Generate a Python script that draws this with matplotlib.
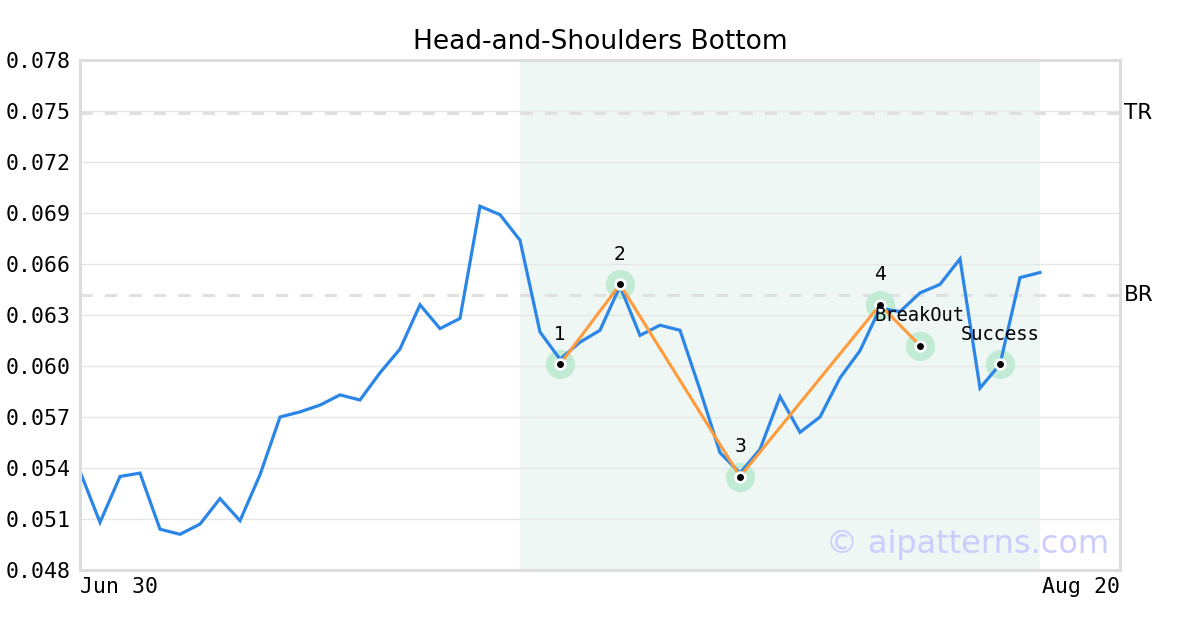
import matplotlib
matplotlib.use("Agg")
import matplotlib.pyplot as plt
import matplotlib.transforms as mtransforms
import numpy as np

# price series, one value per day starting Jun 30
prices = [0.0538, 0.0508, 0.0535, 0.0537, 0.0504, 0.0501, 0.0507, 0.0522, 0.0509, 0.0536,
          0.0570, 0.0573, 0.0577, 0.0583, 0.0580, 0.0596, 0.0610, 0.0636, 0.0622, 0.0628,
          0.0694, 0.0689, 0.0674, 0.0620, 0.0604, 0.0614, 0.0621, 0.0647, 0.0618, 0.0624,
          0.0621, 0.0586, 0.0549, 0.0537, 0.0551, 0.0582, 0.0561, 0.0570, 0.0593, 0.0609,
          0.0634, 0.0632, 0.0643, 0.0648, 0.0663, 0.0587, 0.0601, 0.0652, 0.0655]

# pattern pivots
pivot_idx = [24, 27, 33, 40, 42, 46]
pivot_val = [0.0601, 0.0648, 0.0535, 0.0636, 0.0612, 0.0601]
pivot_lbl = ["1", "2", "3", "4", "BreakOut", "Success"]

top_line = 0.0749   # TR
bottom_line = 0.0642  # BR
shade_start, shade_end = 22, 48
x_ticks = [0, 52]
x_ticklabels = ["Jun 30", "Aug 20"]
y_ticks = np.arange(0.048, 0.0785, 0.003)

BLUE = "#2b86e8"
ORANGE = "#ff9a3d"
HALO = "#c2ebd5"
GRID = "#e6e6e6"
MONO = "DejaVu Sans Mono"

fig = plt.figure(figsize=(12, 6.3), dpi=100)
ax = fig.add_axes([80 / 1200, 60 / 630, 1040 / 1200, 510 / 630])

ax.axvspan(shade_start, shade_end, color="#eef7f3", zorder=0, lw=0)

for yv in y_ticks:
    ax.axhline(yv, color=GRID, lw=1, zorder=0.5)
for yv in (top_line, bottom_line):
    ax.axhline(yv, color="#e0e0e0", lw=2.2, dashes=(4, 4), zorder=0.6)

x = np.arange(len(prices))
# halo behind the lines
ax.plot(pivot_idx, pivot_val, "o", ms=21, mfc=HALO, mec="none", zorder=1)
ax.plot(x, prices, color=BLUE, lw=2.3, zorder=2, solid_joinstyle="miter")
ax.plot(pivot_idx[:5], pivot_val[:5], color=ORANGE, lw=2.2, zorder=3)
ax.plot(pivot_idx, pivot_val, "o", ms=9, mfc="white", mec="none", zorder=4)
ax.plot(pivot_idx, pivot_val, "o", ms=5, mfc="black", mec="none", zorder=5)

for xi, yi, lbl in zip(pivot_idx, pivot_val, pivot_lbl):
    fam = "DejaVu Sans" if lbl.isdigit() else MONO
    ax.annotate(lbl, (xi, yi), xytext=(0, 21.6), textcoords="offset points",
                ha="center", va="center", fontsize=13.5, family=fam, zorder=6)

trans = mtransforms.blended_transform_factory(ax.transAxes, ax.transData)
ax.text(1.004, top_line, "TR", transform=trans, ha="left", va="center", fontsize=15.5)
ax.text(1.004, bottom_line, "BR", transform=trans, ha="left", va="center", fontsize=15.5)

ax.text(0.99, 0.02, "\u00a9 aipatterns.com", transform=ax.transAxes, ha="right",
        va="bottom", fontsize=23, color="#ccccff", zorder=7)

ax.set_xlim(0, 52)
ax.set_ylim(0.048, 0.078)
ax.set_yticks(y_ticks)
ax.set_yticklabels([f"{v:.3f}" for v in y_ticks], family=MONO, fontsize=15.5)
ax.set_xticks(x_ticks)
xl = ax.set_xticklabels(x_ticklabels, family=MONO, fontsize=15.5)
xl[0].set_ha("left")
xl[1].set_ha("right")
ax.tick_params(length=0, pad=6.5)
ax.tick_params(axis="x", pad=5)

for sp in ax.spines.values():
    sp.set_color("#dddddd")
    sp.set_linewidth(2.2)

ax.set_title("Head-and-Shoulders Bottom", fontsize=19, pad=8)

fig.savefig("out.png", dpi=100)
